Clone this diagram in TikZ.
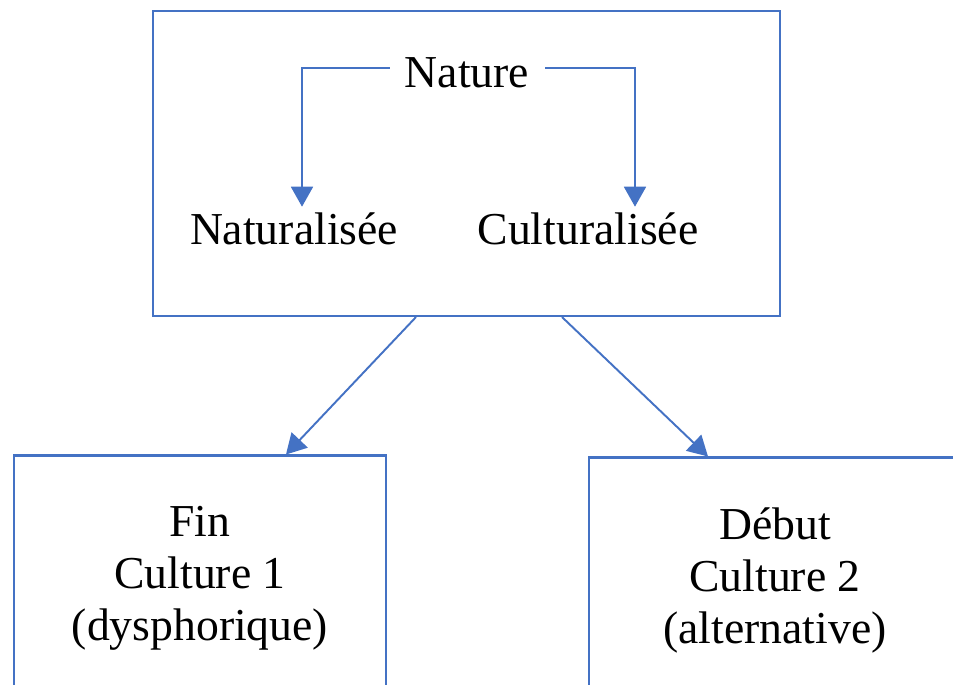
\documentclass[tikz,border=0pt]{standalone}
\usepackage{fontspec}
\setmainfont{Liberation Serif}
\usetikzlibrary{arrows.meta,positioning}
\definecolor{wordblue}{HTML}{4472C4}

\begin{document}
\begin{tikzpicture}[
  x=0.02cm, y=-0.02cm,
  font=\fontsize{26}{29.6}\selectfont,
  topbox/.style={draw=wordblue, line width=1.2pt, minimum width=12.54cm,
                 minimum height=6.1cm},
  culturebox/.style={draw=wordblue, line width=1.2pt, minimum width=7.44cm,
                     minimum height=4.9cm, align=center},
  arr/.style={draw=wordblue, line width=1.1pt,
              -{Triangle[width=0.44cm, length=0.4cm, fill=wordblue]}}
]
\useasboundingbox (0,0) rectangle (953,684);
\clip (0,0) rectangle (953,684);

\node[topbox] (cadre) at (466.5,163.5) {};
\node (nature) at (467,73) {Nature};
\node (natur) at (294,229) {Naturalisée};
\node (cultur) at (588,229) {Culturalisée};

\draw[arr] ([xshift=-0.18cm, yshift=0.1cm]nature.west) -| ([xshift=0.16cm]natur.north);
\draw[arr] ([xshift=0.2cm, yshift=0.1cm]nature.east) -| ([xshift=0.94cm]cultur.north);

\node[culturebox] (fin) at (200,578) {Fin\\Culture 1\\(dysphorique)};
\node[culturebox] (debut) at (775,580) {Début\\Culture 2\\(alternative)};

\draw[arr] ([xshift=-1.01cm]cadre.south) -- ([xshift=1.72cm]fin.north);
\draw[arr] ([xshift=1.91cm]cadre.south) -- ([xshift=-1.34cm]debut.north);

\end{tikzpicture}
\end{document}
